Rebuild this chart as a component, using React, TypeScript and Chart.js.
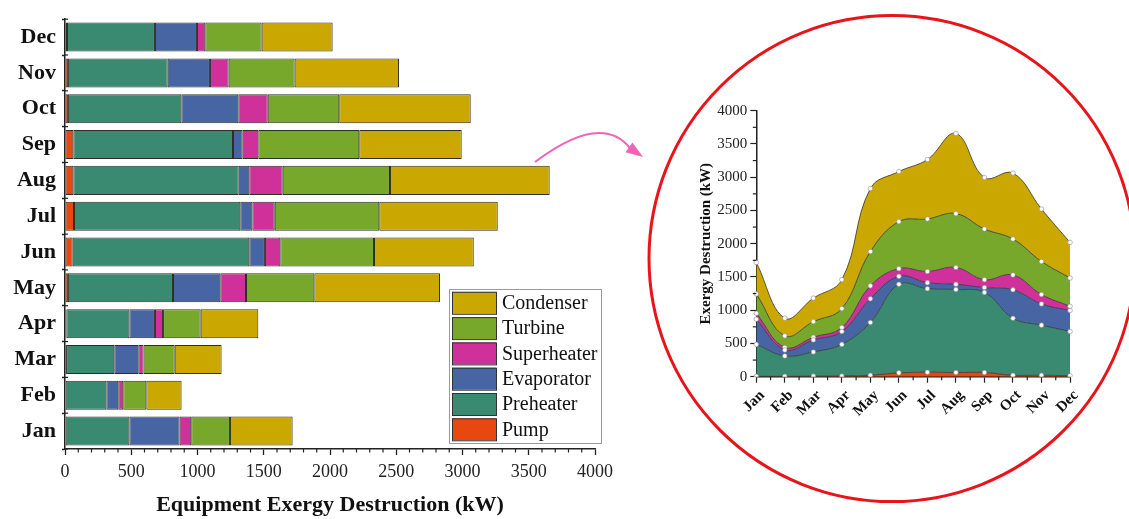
import React, { useEffect, useRef } from 'react';
import { Chart, registerables } from 'chart.js';

Chart.register(...registerables);

const months = ['Jan', 'Feb', 'Mar', 'Apr', 'May', 'Jun', 'Jul', 'Aug', 'Sep', 'Oct', 'Nov', 'Dec'];

const pump = [5, 5, 8, 10, 22, 58, 68, 63, 63, 22, 22, 15];
const preheater = [481, 307, 364, 476, 793, 1333, 1255, 1248, 1205, 856, 753, 664];
const evaporator = [379, 90, 181, 193, 357, 118, 91, 80, 73, 430, 319, 317];
const superheater = [88, 38, 40, 61, 194, 116, 169, 252, 118, 222, 141, 63];
const turbine = [292, 174, 235, 284, 516, 707, 789, 810, 762, 540, 498, 425];
const condenser = [473, 266, 354, 435, 948, 753, 894, 1205, 773, 992, 788, 536];

const seriesNames = ['Pump', 'Preheater', 'Evaporator', 'Superheater', 'Turbine', 'Condenser'];
const seriesColors = ['#E8470F', '#3A8A71', '#4764A3', '#D0309A', '#77A82B', '#CBA702'];
const seriesData = [pump, preheater, evaporator, superheater, turbine, condenser];

const xTicksMain = [0, 500, 1000, 1500, 2000, 2500, 3000, 3500, 4000];
const yTicksInset = [0, 500, 1000, 1500, 2000, 2500, 3000, 3500, 4000];

const SERIF = "'Liberation Serif', 'Times New Roman', serif";

const plainNumber = (v: any) => String(v);

const mainDecor = {
  id: 'mainDecor',
  afterDraw(chart: any) {
    const ctx = chart.ctx;
    const xs = chart.scales.x;
    const area = chart.chartArea;
    ctx.save();
    // minor ticks on x axis
    ctx.strokeStyle = '#222';
    ctx.lineWidth = 1.2;
    for (let v = 100; v < 4000; v += 100) {
      if (v % 500 === 0) continue;
      const x = xs.getPixelForValue(v);
      ctx.beginPath();
      ctx.moveTo(x, area.bottom);
      ctx.lineTo(x, area.bottom + 3.5);
      ctx.stroke();
    }
    // inward ticks on y axis at category boundaries
    const n = months.length;
    const band = (area.bottom - area.top) / n;
    for (let i = 0; i <= n; i++) {
      const y = area.top + i * band;
      ctx.beginPath();
      ctx.moveTo(area.left, y);
      ctx.lineTo(area.left + 3, y);
      ctx.stroke();
    }
    // legend
    const bx = 449, by = 289, bw = 152, bh = 154;
    ctx.fillStyle = '#fff';
    ctx.fillRect(bx, by, bw, bh);
    ctx.strokeStyle = '#9a9a9a';
    ctx.lineWidth = 1;
    ctx.strokeRect(bx + 0.5, by + 0.5, bw, bh);
    const ds = chart.data.datasets;
    ctx.font = `20px ${SERIF}`;
    ctx.textBaseline = 'middle';
    ctx.textAlign = 'left';
    for (let i = 0; i < ds.length; i++) {
      const d = ds[ds.length - 1 - i];
      const yc = 302.8 + i * 25.3;
      ctx.fillStyle = d.backgroundColor;
      ctx.fillRect(452, yc - 11, 44, 22);
      ctx.strokeStyle = '#333';
      ctx.lineWidth = 1;
      ctx.strokeRect(452.5, yc - 10.5, 44, 22);
      ctx.fillStyle = '#111';
      ctx.fillText(d.label, 502, yc + 1);
    }
    // arrow
    ctx.strokeStyle = '#F063B8';
    ctx.fillStyle = '#F063B8';
    ctx.lineWidth = 2;
    ctx.beginPath();
    ctx.moveTo(535, 162);
    ctx.quadraticCurveTo(601, 112, 630, 148);
    ctx.stroke();
    const tipX = 643, tipY = 157;
    const ang = Math.atan2(tipY - 146, tipX - 627);
    const L = 17, W = 6;
    const bxp = tipX - L * Math.cos(ang), byp = tipY - L * Math.sin(ang);
    ctx.beginPath();
    ctx.moveTo(tipX, tipY);
    ctx.lineTo(bxp + W * Math.sin(ang), byp - W * Math.cos(ang));
    ctx.lineTo(bxp - W * Math.sin(ang), byp + W * Math.cos(ang));
    ctx.closePath();
    ctx.fill();
    ctx.restore();
  },
};

const insetDecor = {
  id: 'insetDecor',
  afterDraw(chart: any) {
    const ctx = chart.ctx;
    const xs = chart.scales.x;
    const ys = chart.scales.y;
    const area = chart.chartArea;
    ctx.save();
    ctx.strokeStyle = '#222';
    ctx.lineWidth = 1.2;
    for (let v = 250; v < 4000; v += 500) {
      const y = ys.getPixelForValue(v);
      ctx.beginPath();
      ctx.moveTo(area.left, y);
      ctx.lineTo(area.left - 3.5, y);
      ctx.stroke();
    }
    for (let i = 0; i < months.length - 1; i++) {
      const x = (xs.getPixelForValue(i) + xs.getPixelForValue(i + 1)) / 2;
      ctx.beginPath();
      ctx.moveTo(x, area.bottom);
      ctx.lineTo(x, area.bottom + 3.5);
      ctx.stroke();
    }
    // red circle
    ctx.strokeStyle = '#E8141A';
    ctx.lineWidth = 3;
    ctx.beginPath();
    ctx.arc(892 - 645, 258.6, 243, 0, Math.PI * 2);
    ctx.stroke();
    ctx.restore();
  },
};

function MainChart() {
  const ref = useRef<HTMLCanvasElement>(null);
  useEffect(() => {
    const chart = new Chart(ref.current as HTMLCanvasElement, {
      type: 'bar',
      data: {
        labels: months,
        datasets: seriesData.map((d, i) => ({
          label: seriesNames[i],
          data: d,
          backgroundColor: seriesColors[i],
          borderColor: '#2e2e24',
          borderWidth: 1,
          borderSkipped: false,
          barPercentage: 0.81,
          categoryPercentage: 1,
        })),
      },
      options: {
        indexAxis: 'y',
        animation: false,
        responsive: false,
        maintainAspectRatio: false,
        layout: { padding: { left: 0, right: 55, top: 14, bottom: 0 } },
        plugins: { legend: { display: false }, tooltip: { enabled: false } },
        scales: {
          x: {
            type: 'linear',
            stacked: true,
            min: 0,
            max: 4000,
            afterBuildTicks: (s: any) => {
              s.ticks = xTicksMain.map((v) => ({ value: v }));
            },
            ticks: {
              font: { family: SERIF, size: 18 },
              color: '#222',
              padding: 6,
              maxRotation: 0,
              callback: plainNumber,
            },
            grid: { drawOnChartArea: false, tickLength: 6, color: '#222', tickWidth: 1.3 },
            border: { color: '#222', width: 1.5 },
            title: {
              display: true,
              text: 'Equipment Exergy Destruction (kW)',
              font: { family: SERIF, size: 22, weight: 'bold' },
              color: '#111',
              padding: { top: 0, bottom: 0 },
            },
            afterFit: (s: any) => {
              s.height = 70;
            },
          },
          y: {
            type: 'category',
            stacked: true,
            reverse: true,
            ticks: {
              font: { family: SERIF, size: 22, weight: 'bold' },
              color: '#111',
              padding: 6,
            },
            grid: { drawOnChartArea: false, offset: true, tickLength: 3, color: '#222', tickWidth: 1.3 },
            border: { color: '#222', width: 1.5 },
            afterFit: (s: any) => {
              s.width = 65;
            },
          },
        },
      } as any,
      plugins: [mainDecor],
    });
    return () => chart.destroy();
  }, []);
  return (
    <canvas
      ref={ref}
      width={650}
      height={519}
      style={{ position: 'absolute', left: 0, top: 0, width: 650, height: 519 }}
    />
  );
}

function InsetChart() {
  const ref = useRef<HTMLCanvasElement>(null);
  useEffect(() => {
    const chart = new Chart(ref.current as HTMLCanvasElement, {
      type: 'line',
      data: {
        labels: months,
        datasets: seriesData.map((d, i) => ({
          label: seriesNames[i],
          data: d,
          backgroundColor: seriesColors[i],
          borderColor: '#333',
          borderWidth: 0.8,
          fill: i === 0 ? 'origin' : '-1',
          tension: 0.4,
          pointRadius: 2.3,
          pointBackgroundColor: '#ffffff',
          pointBorderColor: '#8a8a8a',
          pointBorderWidth: 0.6,
        })),
      },
      options: {
        animation: false,
        responsive: false,
        maintainAspectRatio: false,
        layout: { padding: { left: 0, right: 59, top: 110.7, bottom: 0 } },
        plugins: { legend: { display: false }, tooltip: { enabled: false } },
        scales: {
          x: {
            type: 'category',
            offset: false,
            ticks: {
              font: { family: SERIF, size: 15, weight: 'bold' },
              color: '#111',
              minRotation: 45,
              maxRotation: 45,
              autoSkip: false,
              labelOffset: 6,
              padding: 4,
            },
            grid: { drawOnChartArea: false, tickLength: 6, color: '#222', tickWidth: 1.2 },
            border: { color: '#222', width: 1.5 },
            afterFit: (s: any) => {
              s.height = 519 - 376.7;
            },
          },
          y: {
            type: 'linear',
            stacked: true,
            min: 0,
            max: 4000,
            afterBuildTicks: (s: any) => {
              s.ticks = yTicksInset.map((v) => ({ value: v }));
            },
            ticks: {
              font: { family: SERIF, size: 15 },
              color: '#222',
              padding: 3,
              callback: plainNumber,
            },
            grid: { drawOnChartArea: false, tickLength: 6, color: '#222', tickWidth: 1.2 },
            border: { color: '#222', width: 1.5 },
            title: {
              display: true,
              text: 'Exergy Destruction (kW)',
              font: { family: SERIF, size: 15, weight: 'bold' },
              color: '#111',
              padding: { top: 51.7, bottom: 0 },
            },
            afterFit: (s: any) => {
              s.width = 111.3;
            },
          },
        },
      } as any,
      plugins: [insetDecor],
    });
    return () => chart.destroy();
  }, []);
  return (
    <canvas
      ref={ref}
      width={484}
      height={519}
      style={{ position: 'absolute', left: 645, top: 0, width: 484, height: 519 }}
    />
  );
}

export default function App() {
  return (
    <div style={{ position: 'absolute', left: 0, top: 0, width: 1129, height: 519, background: '#fff', overflow: 'hidden' }}>
      <MainChart />
      <InsetChart />
    </div>
  );
}
